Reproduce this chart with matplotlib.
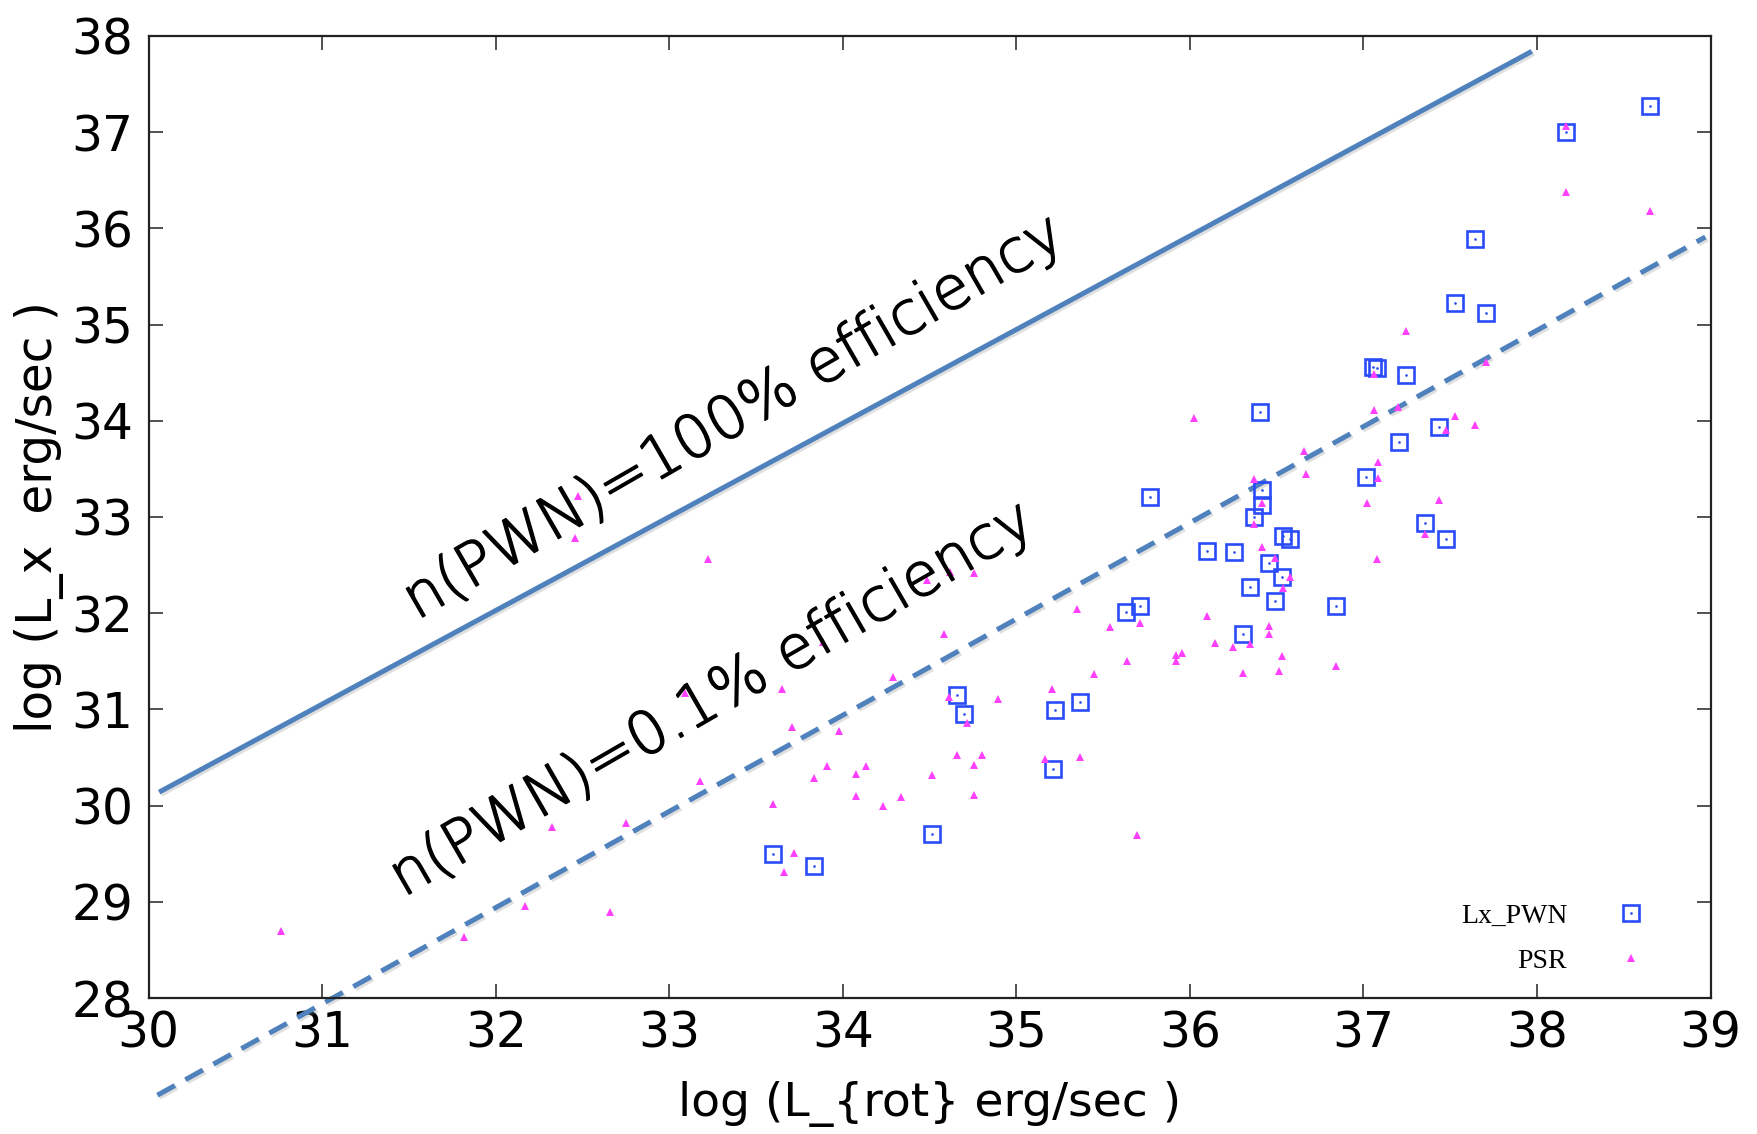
import matplotlib
matplotlib.use('Agg')
import matplotlib.pyplot as plt
import matplotlib.patheffects as pe

# --- data ---
pwn_lrot = [38.651, 38.169, 37.64, 37.53, 37.706, 37.053, 37.078, 37.245, 37.206, 37.433,
            37.016, 37.352, 37.473, 36.841, 36.401, 35.769, 36.413, 36.417, 36.372, 36.537,
            36.578, 36.099, 36.253, 36.455, 36.533, 36.348, 36.492, 36.306, 35.631, 35.714,
            35.368, 35.224, 35.209, 34.659, 34.697, 34.513, 33.597, 33.833]
pwn_lx = [37.272, 36.999, 35.89, 35.22, 35.12, 34.556, 34.55, 34.48, 33.78, 33.936,
          33.416, 32.934, 32.768, 32.075, 34.09, 33.205, 33.281, 33.128, 32.997, 32.80,
          32.775, 32.643, 32.636, 32.519, 32.38, 32.276, 32.127, 31.784, 32.009, 32.08,
          31.08, 30.99, 30.38, 31.153, 30.952, 29.705, 29.494, 29.372]

psr_lrot = [38.651, 38.169, 38.169, 37.245, 37.708, 37.062, 37.062, 37.20, 37.53, 37.64,
            37.475, 36.659, 36.666, 37.081, 37.081, 37.018, 37.433, 37.352, 37.08, 36.841,
            36.026, 36.368, 36.417, 36.372, 36.413, 36.492, 36.574, 36.537, 36.348, 36.455,
            36.455, 36.533, 36.512, 36.306, 36.249, 36.142, 36.099, 35.919, 35.956, 35.919,
            35.635, 35.45, 35.207, 34.61, 34.895, 34.718, 35.714, 35.537, 35.347, 34.581,
            34.287, 34.616, 34.754, 34.482, 33.22, 33.885, 33.648, 33.706, 33.975, 32.474,
            32.456, 30.761, 31.819, 32.168, 32.656, 32.326, 32.75, 33.175, 33.088, 33.597,
            33.906, 33.833, 34.133, 34.075, 34.073, 34.23, 33.716, 33.66, 34.659, 34.8,
            34.754, 34.513, 34.337, 34.754, 35.164, 35.367, 35.695]
psr_lx = [36.18, 36.38, 37.06, 34.93, 34.61, 34.49, 34.11, 34.14, 34.05, 33.96,
          33.90, 33.686, 33.447, 33.572, 33.402, 33.146, 33.18, 32.826, 32.56, 31.448,
          34.032, 33.392, 33.149, 32.927, 32.685, 32.574, 32.373, 32.262, 31.68, 31.867,
          31.784, 31.555, 31.40, 31.375, 31.652, 31.687, 31.97, 31.562, 31.59, 31.50,
          31.507, 31.37, 31.21, 31.126, 31.11, 30.855, 31.895, 31.853, 32.04, 31.784,
          31.333, 32.43, 32.42, 32.35, 32.56, 31.70, 31.21, 30.814, 30.775, 33.22,
          32.78, 28.70, 28.637, 28.96, 28.89, 29.78, 29.816, 30.256, 31.167, 30.02,
          30.415, 30.287, 30.41, 30.33, 30.10, 29.996, 29.504, 29.307, 30.526, 30.523,
          30.422, 30.318, 30.086, 30.107, 30.484, 30.505, 29.694]

# efficiency guide lines (end points)
eff100_lrot = [30.06, 37.97]
eff100_lx = [30.14, 37.84]
eff01_lrot = [30.05, 38.97]
eff01_lx = [26.99, 35.91]

x_ticks = list(range(30, 40))
y_ticks = list(range(28, 39))

fig = plt.figure(figsize=(17.58, 11.34), dpi=100)
ax = fig.add_axes([0.0846, 0.1199, 0.8884, 0.8484])

line_col = '#4f81bd'
shadow = [pe.SimpleLineShadow(offset=(1.5, -1.5), shadow_color='gray', alpha=0.25), pe.Normal()]
ax.plot(eff100_lrot, eff100_lx, color=line_col, lw=3.6, clip_on=False,
        solid_capstyle='butt', path_effects=shadow, zorder=2)
ax.plot(eff01_lrot, eff01_lx, color=line_col, lw=3.6, ls=(0, (4, 2.4)), clip_on=False,
        path_effects=shadow, zorder=2)

# data points
sq, = ax.plot(pwn_lrot, pwn_lx, ls='none', marker='s', ms=11, mfc='none',
              mec='#2a4cf8', mew=1.9, zorder=3)
dot, = ax.plot(pwn_lrot, pwn_lx, ls='none', marker='.', ms=1.8, color='#2a4cf8', zorder=3)
tri, = ax.plot(psr_lrot, psr_lx, ls='none', marker='^', ms=5.5, color='#ff40ff',
               mew=0, zorder=4)

# thin font, thickened a little to get close to the original weight
ann_fx = [pe.withStroke(linewidth=1.1, foreground='black')]
ax.text(33.375, 34.03, 'n(PWN)=100% efficiency', rotation=30, rotation_mode='anchor',
        ha='center', va='center', fontsize=43, family='DejaVu Sans', weight='light',
        color='black', path_effects=ann_fx, zorder=5)
ax.text(33.25, 31.10, 'n(PWN)=0.1% efficiency', rotation=30, rotation_mode='anchor',
        ha='center', va='center', fontsize=43, family='DejaVu Sans', weight='light',
        color='black', path_effects=ann_fx, zorder=5)

ax.set_xlim(30, 39)
ax.set_ylim(28, 38)
ax.set_xticks(x_ticks)
ax.set_yticks(y_ticks)
ax.tick_params(direction='in', length=10, width=1.1, top=True, right=True,
               labelsize=35, color='#222222')
ax.tick_params(axis='x', pad=8)
ax.tick_params(axis='y', pad=11)
for lab in ax.get_xticklabels() + ax.get_yticklabels():
    lab.set_family('DejaVu Sans')
for sp in ax.spines.values():
    sp.set_linewidth(1.6)
    sp.set_color('#222222')

ax.set_xlabel('log (L_{rot} erg/sec )', fontsize=34, family='DejaVu Sans', va='center')
ax.xaxis.set_label_coords(0.5, -0.110)
ax.set_ylabel('log (L_x  erg/sec )', fontsize=35, family='DejaVu Sans', va='center')
ax.yaxis.set_label_coords(-0.070, 0.5)

leg = ax.legend([(sq, dot), tri], ['Lx_PWN', 'PSR'], loc='lower right',
                bbox_to_anchor=(0.967, 0.025), markerfirst=False, frameon=False,
                numpoints=1, handlelength=2.0, handletextpad=1.3, labelspacing=0.7,
                borderpad=0, borderaxespad=0,
                prop={'family': 'Liberation Serif', 'size': 20})

fig.savefig('out.png', dpi=100)
